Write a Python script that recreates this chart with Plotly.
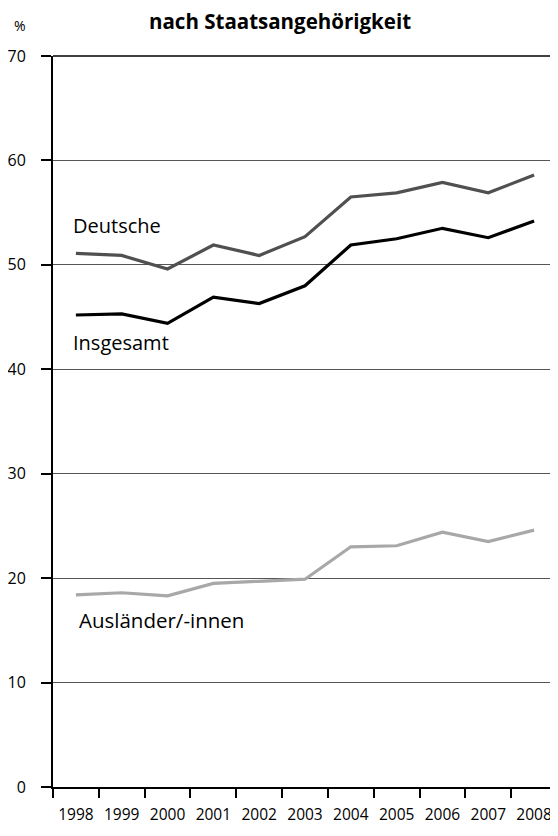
import plotly.graph_objects as go

years = ["1998", "1999", "2000", "2001", "2002", "2003", "2004", "2005", "2006", "2007", "2008"]
deutsche = [51.1, 50.9, 49.6, 51.9, 50.9, 52.7, 56.5, 56.9, 57.9, 56.9, 58.6]
insgesamt = [45.2, 45.3, 44.4, 46.9, 46.3, 48.0, 51.9, 52.5, 53.5, 52.6, 54.2]
auslaender = [18.4, 18.6, 18.3, 19.5, 19.7, 19.9, 23.0, 23.1, 24.4, 23.5, 24.6]
y_ticks = [0, 10, 20, 30, 40, 50, 60, 70]

FONT = "Open Sans"
OFF = 8  # page body margin
W, H = 558 - OFF, 836 - OFF
L, R, T, B = 53 - OFF, 1, 56 - OFF, 836 - 787
PW, PH = W - L - R, H - T - B

fig = go.Figure()
fig.add_trace(go.Scatter(x=years, y=auslaender, mode="lines",
                         line=dict(color="#a8a8a8", width=3.2), showlegend=False))
fig.add_trace(go.Scatter(x=years, y=deutsche, mode="lines",
                         line=dict(color="#505050", width=3.2), showlegend=False))
fig.add_trace(go.Scatter(x=years, y=insgesamt, mode="lines",
                         line=dict(color="#000000", width=3.2), showlegend=False))

fig.update_layout(
    width=W, height=H,
    margin=dict(l=L, r=R, t=T, b=B),
    paper_bgcolor="white", plot_bgcolor="white",
    font=dict(family=FONT, color="black"),
    xaxis=dict(type="category", tickson="boundaries", ticks="outside", ticklen=9,
               tickwidth=2, tickcolor="black", showline=True, linecolor="black",
               linewidth=2, showgrid=False, tickfont=dict(size=15.5, family=FONT),
               ticklabelstandoff=12, range=[-0.5, 10.5], automargin=False),
    yaxis=dict(range=[0, 70], tickvals=y_ticks, ticks="outside", ticklen=10,
               tickwidth=2, tickcolor="black", showline=True, linecolor="black",
               linewidth=2, showgrid=True, gridcolor="#555555", gridwidth=1,
               zeroline=False, tickfont=dict(size=16, family=FONT), ticklabelstandoff=12,
               automargin=False),
    shapes=[
        dict(type="line", xref="paper", yref="paper", x0=0, x1=1, y0=1, y1=1,
             line=dict(color="black", width=1.5)),
        dict(type="line", xref="paper", yref="paper", x0=1, x1=1, y0=0, y1=1,
             line=dict(color="#777777", width=1)),
    ],
    annotations=[
        dict(text="<b>nach Staatsangehörigkeit</b>", xref="paper", yref="paper",
             x=(280 - 53) / PW, y=1 + (56 - 21) / PH, xanchor="center", yanchor="middle",
             showarrow=False, borderpad=0, font=dict(size=20.5, family=FONT)),
        dict(text="%", xref="paper", yref="paper", x=(12 - 53) / PW, y=1 + (56 - 25) / PH,
             xanchor="left", yanchor="middle", showarrow=False, font=dict(size=14, family=FONT)),
        dict(text="Deutsche", xref="x", yref="y", x=-0.1, y=53.8, xanchor="left",
             yanchor="middle", showarrow=False, font=dict(size=20, family=FONT)),
        dict(text="Insgesamt", xref="x", yref="y", x=-0.1, y=42.6, xanchor="left",
             yanchor="middle", showarrow=False, font=dict(size=20, family=FONT)),
        dict(text="Ausländer/-innen", xref="x", yref="y", x=0.02, y=16.0, xanchor="left",
             yanchor="middle", showarrow=False, font=dict(size=20.5, family=FONT)),
    ],
)

fig.write_html("out.html")
